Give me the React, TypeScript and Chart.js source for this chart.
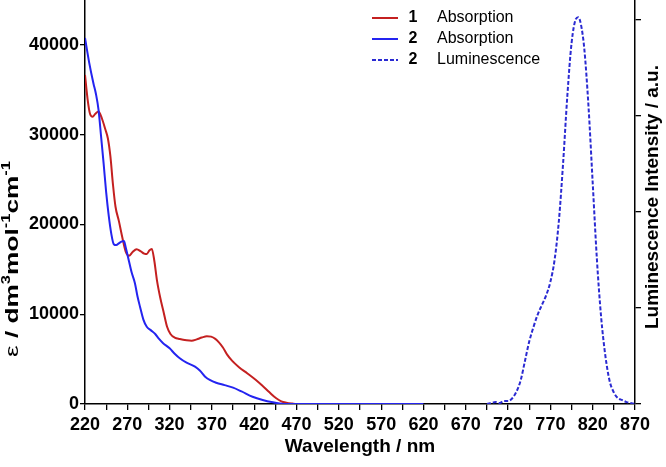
import React, { useEffect, useRef } from "react";
import { Chart, registerables } from "chart.js";
Chart.register(...registerables);

// ---- data ----
const wl1 = [220,223,226,229,232,236,240,244,247,250,253,256,260,264,268,272,276,281,286,290,293,296,299,302,305,309,313,317,321,326,332,340,346,352,358,364,369,374,378,383,388,394,402,412,422,430,438,446,452,458,465,470,480];
const abs1 = [36650,34000,32300,32000,32300,32570,31800,30600,29600,27600,24500,22000,20400,18600,17000,16500,16900,17250,17000,16750,16700,17100,17270,15900,13800,11800,10200,8600,7800,7400,7240,7100,7050,7200,7400,7550,7500,7250,6900,6300,5500,4800,4100,3400,2670,2000,1300,640,300,150,50,0,0];

const wl2 = [220,225,230,233,236,239,242,245,248,251,254,257,260,263,266,268,271,275,279,282,285,289,293,298,303,307,312,320,326,332,340,350,356,362,368,375,385,395,405,418,430,442,450,460,480,520,570,620];
const abs2 = [40780,38000,35700,34500,32760,29800,26800,23600,21000,19000,17800,17700,17900,18080,18150,17500,16300,14700,13450,12000,10840,9400,8600,8200,7800,7300,6800,6200,5600,5090,4600,4160,3700,3040,2650,2370,2100,1820,1400,810,450,190,60,0,0,0,0,0];

const wlLum = [695,700,705,710,715,720,725,730,735,740,745,750,755,760,765,770,775,780,785,790,795,800,803,806,810,815,820,825,830,835,840,845,850,855,860,865,870];
const lum = [0,0.01,0.02,0.01,0.03,0.03,0.06,0.13,0.25,0.45,0.65,0.8,0.93,1.03,1.13,1.27,1.5,1.9,2.5,3.2,3.75,4.0,4.02,3.95,3.7,3.1,2.3,1.5,0.9,0.5,0.24,0.12,0.06,0.04,0.02,0.01,0];

const xMin = 220, xMax = 870, xTickStep = 25, xLabelStep = 50;
const yMin = 0, yMax = 45000;
const yTicks = [0, 10000, 20000, 30000, 40000];
const y2Min = 0, y2Max = 4.2;
const y2Ticks = [0, 1, 2, 3, 4];

const legendNums = ["1", "2", "2"];
const legendLabels = ["Absorption", "Absorption", "Luminescence"];
const xTitle = "Wavelength / nm";
const y2Title = "Luminescence Intensity / a.u.";
// y title pieces: [text, superscript?]
const yTitleParts: [string, boolean][] = [["ε", false], [" / dm", false], ["3", true], ["mol", false], ["-1", true], ["cm", false], ["-1", true]];

const RED = "#c42020";
const BLUE = "#2424f0";
const DBLUE = "#2a2ad2";
const FONT = "Arial, 'Liberation Sans', sans-serif";

const pts = (xs: number[], ys: number[]) => xs.map((x, i) => ({ x, y: ys[i] }));

const annot = {
  id: "annot",
  afterDraw(chart: any) {
    const ctx = chart.ctx as CanvasRenderingContext2D;
    const ca = chart.chartArea;
    ctx.save();
    ctx.fillStyle = "#000";
    // x title
    ctx.font = `bold 19px ${FONT}`;
    ctx.textAlign = "center";
    ctx.textBaseline = "middle";
    ctx.fillText(xTitle, (ca.left + ca.right) / 2, 447);
    // right title
    ctx.save();
    ctx.translate(653, 197);
    ctx.rotate(-Math.PI / 2);
    ctx.fillText(y2Title, 0, 0);
    ctx.restore();
    // left title (with superscripts)
    ctx.save();
    ctx.translate(13, 259);
    ctx.rotate(-Math.PI / 2);
    ctx.scale(1.38, 1);
    const big = 19, small = 12;
    const fontFor = (i: number, sup: boolean) =>
      i === 0 ? `${big}px ${FONT}` : `bold ${sup ? small : big}px ${FONT}`;
    let total = 0;
    yTitleParts.forEach(([t, s], i) => { ctx.font = fontFor(i, s); total += ctx.measureText(t).width; });
    let x = -total / 2;
    ctx.textAlign = "left";
    yTitleParts.forEach(([t, s], i) => {
      ctx.font = fontFor(i, s);
      ctx.fillText(t, x, s ? -6 : 0);
      x += ctx.measureText(t).width;
    });
    ctx.restore();
    // legend
    const rows = [18, 39, 60];
    const colors = [RED, BLUE, DBLUE];
    rows.forEach((ry, i) => {
      ctx.beginPath();
      ctx.strokeStyle = colors[i];
      ctx.lineWidth = 2;
      ctx.setLineDash(i === 2 ? [4, 2] : []);
      ctx.moveTo(372, ry);
      ctx.lineTo(398, ry);
      ctx.stroke();
      ctx.setLineDash([]);
      ctx.fillStyle = "#000";
      ctx.textAlign = "center";
      ctx.font = `bold 16px ${FONT}`;
      ctx.fillText(legendNums[i], 413, ry);
      ctx.textAlign = "left";
      ctx.font = `16px ${FONT}`;
      ctx.fillText(legendLabels[i], 437, ry);
    });
    ctx.restore();
  },
};

export default function App() {
  const ref = useRef<HTMLCanvasElement>(null);
  useEffect(() => {
    const tickFont = { family: FONT, size: 18, weight: "bold" as const };
    const chart = new Chart(ref.current!, {
      type: "line",
      data: {
        datasets: [
          { label: "1 Absorption", data: pts(wl1, abs1), borderColor: RED, borderWidth: 2, pointRadius: 0, cubicInterpolationMode: "monotone", yAxisID: "y", order: 3 },
          { label: "2 Absorption", data: pts(wl2, abs2), borderColor: BLUE, borderWidth: 2, pointRadius: 0, cubicInterpolationMode: "monotone", yAxisID: "y", order: 2 },
          { label: "2 Luminescence", data: pts(wlLum, lum), borderColor: DBLUE, borderWidth: 2, borderDash: [4, 2], pointRadius: 0, cubicInterpolationMode: "monotone", yAxisID: "y2", order: 1 },
        ],
      },
      options: {
        animation: false,
        responsive: false,
        layout: { padding: 0 },
        plugins: { legend: { display: false }, tooltip: { enabled: false } },
        scales: {
          x: {
            type: "linear",
            min: xMin,
            max: xMax,
            ticks: {
              stepSize: xTickStep,
              autoSkip: false,
              maxRotation: 0,
              color: "#000",
              font: tickFont,
              padding: 4,
              callback: (v: any) => ((Number(v) - xMin) % xLabelStep === 0 ? String(v) : ""),
            },
            grid: { drawOnChartArea: false, drawTicks: true, tickLength: 6, color: "#000", lineWidth: 1.3 },
            border: { color: "#000", width: 1.5 },
            afterFit: (s: any) => { s.height = 63; },
          },
          y: {
            position: "left",
            min: yMin,
            max: yMax,
            afterBuildTicks: (s: any) => { s.ticks = yTicks.map((value) => ({ value })); },
            ticks: { color: "#000", font: tickFont, padding: 1, callback: (v: any) => String(v) },
            grid: { drawOnChartArea: false, drawTicks: true, tickLength: 5, color: "#000", lineWidth: 1.3 },
            border: { color: "#000", width: 1.5 },
            afterFit: (s: any) => { s.width = 85; s.paddingTop = 0; s.paddingBottom = 0; },
          },
          y2: {
            position: "right",
            min: y2Min,
            max: y2Max,
            afterBuildTicks: (s: any) => { s.ticks = y2Ticks.map((value) => ({ value })); },
            ticks: { display: false },
            grid: { drawOnChartArea: false, drawTicks: true, tickLength: 6, color: "#000", lineWidth: 1.3 },
            border: { color: "#000", width: 1.5 },
            afterFit: (s: any) => { s.width = 31; s.paddingTop = 0; s.paddingBottom = 0; },
          },
        },
      },
      plugins: [annot],
    } as any);
    return () => chart.destroy();
  }, []);
  return (
    <div style={{ position: "fixed", left: 0, top: 0, width: 666, height: 467, background: "#fff" }}>
      <canvas ref={ref} width={666} height={467} style={{ width: "666px", height: "467px", display: "block" }} />
    </div>
  );
}
